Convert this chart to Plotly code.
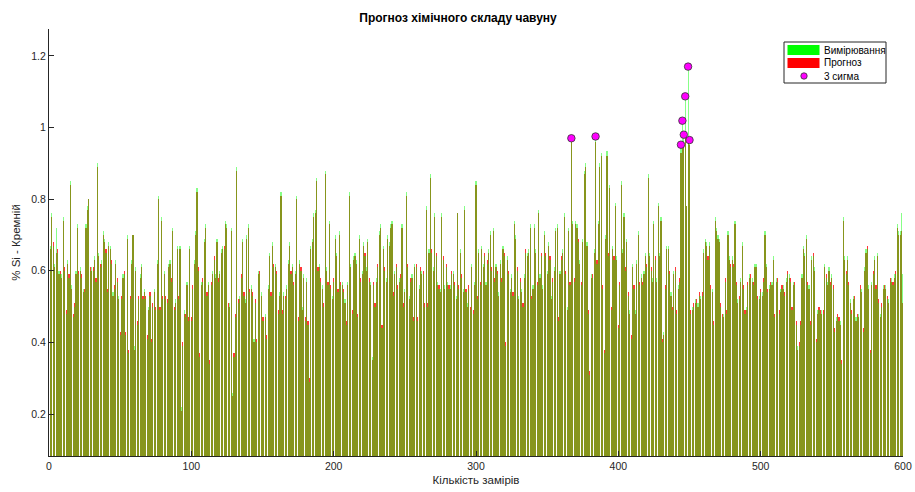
import plotly.graph_objects as go

# Measured and predicted silicon content (%) for 600 consecutive samples
measured = [
    0.67,0.76,0.67,0.62,0.72,0.65,0.60,0.59,0.59,0.75,
    0.60,0.48,0.63,0.58,0.85,0.56,0.47,0.50,0.60,0.73,
    0.59,0.61,0.58,0.55,0.54,0.73,0.78,0.80,0.60,0.61,
    0.60,0.64,0.57,0.90,0.65,0.61,0.63,0.71,0.69,0.65,
    0.54,0.68,0.67,0.62,0.54,0.55,0.63,0.57,0.53,0.42,
    0.52,0.59,0.59,0.42,0.70,0.37,0.52,0.63,0.70,0.39,
    0.61,0.45,0.52,0.59,0.62,0.52,0.55,0.52,0.41,0.50,
    0.53,0.40,0.50,0.55,0.49,0.63,0.81,0.49,0.75,0.52,
    0.60,0.52,0.51,0.62,0.63,0.57,0.72,0.49,0.52,0.67,
    0.52,0.67,0.22,0.39,0.49,0.47,0.57,0.46,0.67,0.46,
    0.55,0.63,0.71,0.83,0.60,0.36,0.57,0.57,0.69,0.73,
    0.53,0.57,0.34,0.56,0.60,0.63,0.59,0.69,0.57,0.60,
    0.66,0.67,0.66,0.74,0.73,0.50,0.51,0.72,0.26,0.36,
    0.47,0.89,0.51,0.53,0.58,0.69,0.53,0.52,0.70,0.73,
    0.54,0.56,0.53,0.41,0.51,0.40,0.60,0.59,0.54,0.46,
    0.46,0.48,0.41,0.56,0.65,0.53,0.68,0.61,0.62,0.59,
    0.48,0.54,0.82,0.48,0.54,0.52,0.56,0.63,0.68,0.59,
    0.62,0.56,0.60,0.81,0.46,0.63,0.60,0.50,0.59,0.46,
    0.58,0.45,0.29,0.67,0.69,0.76,0.77,0.86,0.60,0.62,
    0.57,0.56,0.50,0.88,0.61,0.56,0.74,0.55,0.53,0.57,
    0.70,0.65,0.54,0.71,0.56,0.57,0.54,0.52,0.45,0.57,
    0.82,0.62,0.48,0.64,0.65,0.63,0.47,0.70,0.57,0.60,
    0.68,0.64,0.61,0.69,0.57,0.57,0.36,0.56,0.50,0.58,
    0.61,0.71,0.73,0.44,0.67,0.60,0.58,0.70,0.68,0.73,
    0.74,0.53,0.60,0.61,0.55,0.58,0.58,0.73,0.50,0.55,
    0.82,0.61,0.53,0.57,0.59,0.46,0.62,0.61,0.46,0.56,
    0.60,0.60,0.59,0.50,0.78,0.50,0.66,0.87,0.65,0.61,
    0.76,0.64,0.57,0.55,0.55,0.76,0.63,0.56,0.61,0.57,
    0.55,0.56,0.59,0.60,0.56,0.53,0.76,0.55,0.66,0.58,
    0.55,0.78,0.54,0.51,0.55,0.49,0.62,0.48,0.57,0.85,
    0.52,0.66,0.56,0.67,0.62,0.64,0.57,0.62,0.66,0.71,
    0.60,0.72,0.57,0.62,0.59,0.54,0.63,0.57,0.67,0.64,
    0.39,0.64,0.59,0.55,0.59,0.53,0.74,0.70,0.60,0.53,
    0.57,0.55,0.50,0.59,0.65,0.65,0.66,0.73,0.52,0.56,
    0.73,0.66,0.56,0.77,0.59,0.64,0.56,0.71,0.64,0.60,
    0.68,0.63,0.53,0.57,0.61,0.72,0.73,0.46,0.60,0.63,
    0.66,0.76,0.59,0.50,0.72,0.56,0.97,0.74,0.57,0.74,
    0.73,0.68,0.63,0.56,0.69,0.88,0.90,0.68,0.48,0.31,
    0.59,0.58,0.66,0.975,0.62,0.74,0.90,0.93,0.55,0.37,
    0.70,0.935,0.64,0.84,0.49,0.67,0.63,0.79,0.64,0.44,
    0.56,0.85,0.66,0.76,0.60,0.69,0.53,0.49,0.41,0.62,
    0.55,0.49,0.63,0.71,0.56,0.59,0.56,0.60,0.65,0.61,
    0.87,0.65,0.60,0.58,0.74,0.63,0.58,0.79,0.65,0.75,
    0.40,0.43,0.55,0.67,0.67,0.59,0.54,0.49,0.60,0.60,
    0.48,0.56,0.57,0.952,1.019,0.98,1.087,0.78,1.17,0.965,
    0.48,0.50,0.50,0.52,0.51,0.51,0.53,0.53,0.53,0.66,
    0.69,0.68,0.63,0.68,0.55,0.55,0.45,0.75,0.72,0.70,
    0.69,0.50,0.47,0.48,0.57,0.48,0.71,0.64,0.61,0.64,
    0.61,0.74,0.56,0.52,0.52,0.58,0.68,0.55,0.48,0.50,
    0.56,0.59,0.58,0.58,0.56,0.62,0.62,0.52,0.53,0.54,
    0.54,0.57,0.71,0.62,0.54,0.56,0.56,0.57,0.64,0.47,
    0.58,0.57,0.48,0.55,0.55,0.56,0.53,0.58,0.59,0.59,
    0.57,0.49,0.57,0.56,0.45,0.39,0.39,0.45,0.59,0.67,
    0.65,0.70,0.56,0.56,0.45,0.64,0.64,0.61,0.40,0.49,
    0.49,0.48,0.49,0.48,0.62,0.58,0.57,0.61,0.56,0.59,
    0.55,0.43,0.47,0.47,0.46,0.46,0.34,0.75,0.64,0.59,
    0.64,0.56,0.52,0.48,0.53,0.52,0.47,0.47,0.48,0.55,
    0.55,0.43,0.61,0.66,0.66,0.56,0.37,0.57,0.59,0.64,
    0.55,0.65,0.51,0.48,0.50,0.56,0.55,0.56,0.52,0.52,
    0.57,0.58,0.56,0.59,0.59,0.73,0.71,0.71,0.76,0.59,
]

predicted = [
    0.66,0.75,0.68,0.61,0.65,0.66,0.59,0.60,0.58,0.74,
    0.61,0.49,0.62,0.59,0.84,0.55,0.48,0.51,0.59,0.72,
    0.60,0.60,0.59,0.54,0.55,0.72,0.77,0.80,0.61,0.60,
    0.61,0.63,0.58,0.89,0.64,0.62,0.62,0.70,0.68,0.66,
    0.55,0.67,0.66,0.63,0.53,0.56,0.62,0.58,0.52,0.43,
    0.53,0.58,0.60,0.43,0.69,0.38,0.53,0.62,0.70,0.38,
    0.60,0.46,0.53,0.58,0.61,0.53,0.54,0.53,0.42,0.49,
    0.54,0.41,0.51,0.54,0.50,0.62,0.80,0.50,0.74,0.53,
    0.59,0.53,0.52,0.61,0.62,0.58,0.71,0.50,0.51,0.66,
    0.53,0.66,0.21,0.40,0.48,0.48,0.56,0.47,0.66,0.47,
    0.56,0.62,0.70,0.82,0.61,0.37,0.56,0.58,0.68,0.72,
    0.54,0.56,0.35,0.57,0.59,0.64,0.58,0.68,0.58,0.59,
    0.65,0.66,0.67,0.73,0.72,0.51,0.50,0.71,0.25,0.37,
    0.48,0.88,0.52,0.52,0.59,0.68,0.54,0.51,0.69,0.72,
    0.55,0.55,0.54,0.40,0.52,0.41,0.59,0.60,0.53,0.47,
    0.47,0.47,0.42,0.55,0.64,0.54,0.67,0.62,0.61,0.60,
    0.49,0.53,0.81,0.49,0.53,0.53,0.55,0.62,0.67,0.60,
    0.61,0.57,0.59,0.80,0.47,0.62,0.61,0.49,0.58,0.47,
    0.57,0.46,0.30,0.66,0.68,0.75,0.76,0.85,0.61,0.61,
    0.58,0.55,0.51,0.87,0.60,0.57,0.73,0.56,0.52,0.58,
    0.69,0.64,0.55,0.70,0.57,0.56,0.55,0.51,0.46,0.56,
    0.81,0.61,0.49,0.63,0.64,0.62,0.48,0.69,0.58,0.59,
    0.67,0.65,0.60,0.68,0.58,0.56,0.35,0.57,0.51,0.57,
    0.62,0.70,0.72,0.45,0.66,0.61,0.57,0.69,0.67,0.72,
    0.73,0.54,0.59,0.62,0.56,0.57,0.59,0.72,0.51,0.54,
    0.81,0.62,0.52,0.58,0.58,0.47,0.61,0.62,0.47,0.55,
    0.61,0.59,0.60,0.51,0.77,0.51,0.65,0.86,0.66,0.60,
    0.75,0.65,0.56,0.56,0.54,0.75,0.64,0.55,0.62,0.56,
    0.56,0.55,0.60,0.59,0.57,0.52,0.76,0.56,0.65,0.59,
    0.54,0.77,0.55,0.50,0.56,0.50,0.61,0.49,0.56,0.84,
    0.53,0.65,0.57,0.66,0.61,0.65,0.56,0.63,0.65,0.70,
    0.61,0.71,0.58,0.61,0.60,0.53,0.62,0.58,0.66,0.65,
    0.40,0.63,0.60,0.54,0.58,0.54,0.73,0.69,0.61,0.52,
    0.58,0.54,0.51,0.58,0.66,0.64,0.65,0.72,0.53,0.55,
    0.72,0.65,0.57,0.76,0.58,0.65,0.55,0.70,0.65,0.59,
    0.67,0.64,0.52,0.58,0.60,0.71,0.72,0.47,0.59,0.64,
    0.65,0.75,0.60,0.49,0.71,0.57,0.96,0.73,0.58,0.73,
    0.72,0.69,0.62,0.57,0.68,0.87,0.89,0.67,0.49,0.32,
    0.58,0.59,0.65,0.96,0.63,0.73,0.89,0.92,0.56,0.38,
    0.69,0.92,0.65,0.83,0.50,0.66,0.64,0.78,0.63,0.45,
    0.57,0.84,0.65,0.75,0.61,0.68,0.54,0.48,0.42,0.61,
    0.56,0.48,0.62,0.70,0.57,0.58,0.57,0.59,0.64,0.62,
    0.86,0.64,0.61,0.57,0.73,0.64,0.57,0.78,0.64,0.74,
    0.41,0.42,0.56,0.66,0.66,0.60,0.53,0.50,0.59,0.61,
    0.49,0.55,0.58,0.93,0.96,0.95,0.97,0.78,0.96,0.95,
    0.49,0.49,0.51,0.51,0.52,0.50,0.54,0.52,0.54,0.65,
    0.68,0.67,0.64,0.67,0.56,0.54,0.46,0.74,0.71,0.69,
    0.68,0.51,0.48,0.47,0.58,0.49,0.70,0.63,0.62,0.63,
    0.62,0.73,0.57,0.51,0.53,0.57,0.67,0.56,0.49,0.49,
    0.57,0.58,0.59,0.57,0.57,0.61,0.61,0.53,0.52,0.55,
    0.53,0.58,0.70,0.61,0.55,0.55,0.57,0.56,0.63,0.48,
    0.57,0.58,0.49,0.54,0.56,0.55,0.54,0.57,0.60,0.58,
    0.58,0.50,0.56,0.57,0.46,0.38,0.40,0.46,0.58,0.66,
    0.64,0.69,0.57,0.55,0.46,0.63,0.65,0.60,0.41,0.48,
    0.50,0.49,0.48,0.49,0.61,0.59,0.56,0.60,0.57,0.58,
    0.56,0.44,0.46,0.48,0.47,0.45,0.35,0.74,0.63,0.60,
    0.63,0.57,0.51,0.49,0.52,0.53,0.46,0.48,0.47,0.56,
    0.54,0.44,0.60,0.65,0.67,0.55,0.38,0.56,0.60,0.63,
    0.56,0.64,0.52,0.47,0.51,0.55,0.56,0.55,0.53,0.51,
    0.58,0.57,0.57,0.58,0.60,0.72,0.70,0.70,0.71,0.51,
]

# Sample numbers whose measured value exceeds the 3-sigma limit
sigma_samples = [367, 384, 444, 445, 446, 447, 449, 450]

samples = list(range(1, len(measured) + 1))
sigma_values = [measured[i - 1] for i in sigma_samples]

x_ticks = [0, 100, 200, 300, 400, 500, 600]
y_ticks = [0.2, 0.4, 0.6, 0.8, 1.0, 1.2]
y_tick_text = ["0.2", "0.4", "0.6", "0.8", "1", "1.2"]

FONT = "Liberation Sans, Arial, sans-serif"
W, H = 915, 492
L, R, T, B = 49, 12, 29, 36
PW, PH = W - L - R, H - T - B


def px(x):
    return (x - L) / PW


def py(y):
    return (H - B - y) / PH


fig = go.Figure()
fig.add_trace(go.Bar(
    x=samples, y=predicted, width=0.8, name="Прогноз",
    marker=dict(color="rgba(255,0,0,0.78)", line=dict(width=0)),
    showlegend=False,
))
fig.add_trace(go.Bar(
    x=samples, y=measured, width=0.8, name="Вимірювання",
    marker=dict(color="rgba(0,255,0,0.47)", line=dict(width=0)),
    showlegend=False,
))
fig.add_trace(go.Scatter(
    x=sigma_samples, y=sigma_values, mode="markers", name="3 сигма",
    marker=dict(color="#ff00ff", size=7.5, line=dict(color="#333333", width=0.8)),
    showlegend=False,
))

# Legend box drawn in the MATLAB style
shapes = [
    dict(type="rect", xref="paper", yref="paper",
         x0=px(784), x1=px(886), y0=py(83), y1=py(42),
         line=dict(color="#262626", width=1), fillcolor="white"),
    dict(type="rect", xref="paper", yref="paper",
         x0=px(787.5), x1=px(819.5), y0=py(55), y1=py(45),
         line=dict(width=0), fillcolor="#00ff00"),
    dict(type="rect", xref="paper", yref="paper",
         x0=px(787.5), x1=px(819.5), y0=py(68), y1=py(58),
         line=dict(width=0), fillcolor="#ff0000"),
    dict(type="circle", xref="paper", yref="paper",
         x0=px(800.8), x1=px(807.2), y0=py(79.2), y1=py(72.8),
         line=dict(color="#333333", width=0.8), fillcolor="#ff00ff"),
]
annotations = [
    dict(text=t, xref="paper", yref="paper", x=px(822), y=py(yc),
         xanchor="left", yanchor="middle", showarrow=False,
         font=dict(family=FONT, size=10, color="#000000"))
    for t, yc in [("Вимірювання", 50), ("Прогноз", 63), ("3 сигма", 76.5)]
]

fig.update_layout(
    width=W, height=H,
    margin=dict(l=L, r=R, t=T, b=B, autoexpand=False),
    paper_bgcolor="white", plot_bgcolor="white",
    barmode="overlay", bargap=0,
    showlegend=False,
    title=dict(text="<b>Прогноз хімічного складу чавуну</b>",
               x=px(476.5), xanchor="center", y=1 - 18 / H, yanchor="middle",
               font=dict(family=FONT, size=12, color="#000000")),
    font=dict(family=FONT, size=10, color="#262626"),
    xaxis=dict(range=[0, 600], tickvals=x_ticks, ticks="inside", ticklen=5,
               tickcolor="#262626", showline=True, linecolor="#262626",
               linewidth=1, showgrid=False, zeroline=False,
               tickfont=dict(size=10.5, color="#262626"),
               title=dict(text="Кількість замірів", standoff=5,
                          font=dict(size=11.5, color="#262626"))),
    yaxis=dict(range=[0.083, 1.275], tickvals=y_ticks, ticktext=y_tick_text,
               ticks="inside", ticklen=5, tickcolor="#262626",
               showline=True, linecolor="#262626", linewidth=1,
               showgrid=False, zeroline=False,
               tickfont=dict(size=10.5, color="#262626"),
               title=dict(text="% Si - Кремній", standoff=8,
                          font=dict(size=11.5, color="#262626"))),
    shapes=shapes,
    annotations=annotations,
)

fig.write_html("out.html")
